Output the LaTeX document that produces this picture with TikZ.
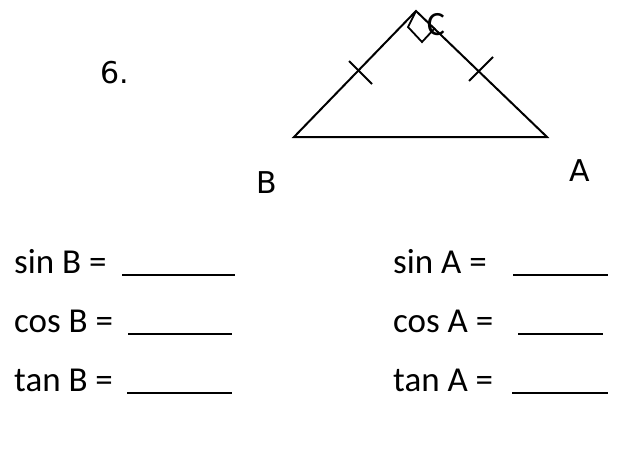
\documentclass[tikz,border=0pt]{standalone}
\usepackage{fontspec}
\setmainfont{Carlito}
\newfontfamily\labfont{DejaVu Sans}
\begin{document}
\begin{tikzpicture}[x=1pt,y=-1pt,
  edge/.style={line width=2pt, line join=miter},
  tick/.style={line width=1.8pt},
  blank/.style={line width=1.6pt},
  trig/.style={anchor=base west, inner sep=0pt, font=\fontsize{35}{35}\selectfont},
  vlabel/.style={inner sep=0pt, font=\labfont\fontsize{30}{30}\selectfont}]
\useasboundingbox (0,0) rectangle (617,455);
% triangle
\coordinate (B) at (294,137);
\coordinate (A) at (547,137);
\coordinate (C) at (416,11);
\draw[edge] (B) -- (C) -- (A) -- cycle;
% right-angle mark
\coordinate (r1) at (408,27);
\coordinate (r2) at (422,42);
\coordinate (r3) at (435,28);
\draw[tick] (C) -- (r1) -- (r2) -- (r3);
% equal-length ticks
\coordinate (t1a) at (349,61);
\coordinate (t1b) at (372,84);
\coordinate (t2a) at (493,57);
\coordinate (t2b) at (469,81);
\draw[tick] (t1a) -- (t1b);
\draw[tick] (t2a) -- (t2b);
% labels
\node[vlabel] (num) at (115,73) {6.};
\node[vlabel] (labB) at (267,183) {B};
\node[vlabel] (labA) at (580,171) {A};
\node[inner sep=0pt, font=\fontsize{34}{34}\selectfont] (labC) at (436,25) {C};
% trig rows
\node[trig] (sinB) at (14,273) {sin B =};
\node[trig] (cosB) at (14,332) {cos B =};
\node[trig] (tanB) at (14,391) {tan B =};
\node[trig] (sinA) at (393,273) {sin A =};
\node[trig] (cosA) at (393,332) {cos A =};
\node[trig] (tanA) at (393,391) {tan A =};
% blanks
\coordinate (u1a) at (122,275); \coordinate (u1b) at (235,275);
\coordinate (u2a) at (128,334); \coordinate (u2b) at (232,334);
\coordinate (u3a) at (127,393); \coordinate (u3b) at (232,393);
\coordinate (u4a) at (513,275); \coordinate (u4b) at (608,275);
\coordinate (u5a) at (518,334); \coordinate (u5b) at (603,334);
\coordinate (u6a) at (512,393); \coordinate (u6b) at (608,393);
\draw[blank] (u1a) -- (u1b);
\draw[blank] (u2a) -- (u2b);
\draw[blank] (u3a) -- (u3b);
\draw[blank] (u4a) -- (u4b);
\draw[blank] (u5a) -- (u5b);
\draw[blank] (u6a) -- (u6b);
\end{tikzpicture}
\end{document}
